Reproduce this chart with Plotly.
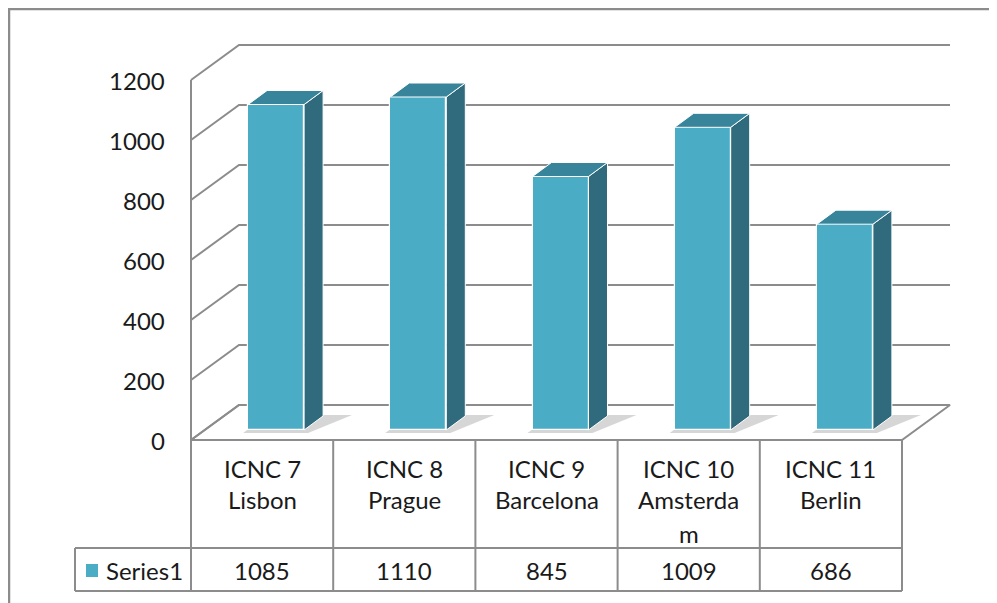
import plotly.graph_objects as go

# ---------------- data ----------------
categories = ["ICNC 7\nLisbon", "ICNC 8\nPrague", "ICNC 9\nBarcelona",
              "ICNC 10\nAmsterda\nm", "ICNC 11\nBerlin"]
values = [1085, 1110, 845, 1009, 686]
series_name = "Series1"
y_ticks = [0, 200, 400, 600, 800, 1000, 1200]

# ---------------- geometry (screen pixels) ----------------
W, H = 997, 603
OFF = 8.0                        # page body margin: figure starts 8px in
FX0, FX1 = 191.0, 902.0          # front plane left/right (category -0.5 .. n-0.5)
Y0 = 440.0                       # screen row of value 0 on the front plane
PPV = 0.30                       # pixels per value unit
n = len(values)
PPC = (FX1 - FX0) / n            # pixels per category

DX0, DX1 = 140.0, 990.0
DY_T, DY_B = 20.0, 446.0


def pxp(p):  # screen pixel -> paper x
    return (p - OFF) / W


def pyp(p):  # screen pixel -> paper y
    return 1 - (p - OFF) / H


def xp(p):   # screen pixel -> x data
    return -0.5 + (p - FX0) / PPC


def yp(p):   # screen pixel -> y data
    return (Y0 - p) / PPV


def dxp(d):
    return d / PPC


def dyp(d):
    return d / PPV


WALL_DX, WALL_DY = dxp(48), dyp(35)
F_DX, F_DY = dxp(14), dyp(10)
B_DX, B_DY = dxp(33), dyp(24)
BW = dxp(56)

GRID = "#8C8C8C"
FRONT = "#4BACC6"
SIDE = "#2F6B7C"
TOP = "#38849A"
TXT = "#1A1A1A"
FONT = "Lato"
FS = 24

fig = go.Figure()
x_left, x_right = -0.5, n - 0.5

# ---- bottom layer (x/y): floor, gridlines, shadows ----
fig.add_trace(go.Scatter(
    x=[x_left, x_right, x_right + WALL_DX, x_left + WALL_DX, x_left],
    y=[0, 0, WALL_DY, WALL_DY, 0],
    mode="lines", fill="toself", fillcolor="white",
    line=dict(color=GRID, width=2), hoverinfo="skip", showlegend=False))

gx, gy = [], []
for v in y_ticks:
    gx += [x_left, x_left + WALL_DX, x_right + WALL_DX, None]
    gy += [v, v + WALL_DY, v + WALL_DY, None]
gx += [x_left, x_left]
gy += [0, y_ticks[-1]]
fig.add_trace(go.Scatter(x=gx, y=gy, mode="lines",
                         line=dict(color=GRID, width=2),
                         hoverinfo="skip", showlegend=False))

for i, v in enumerate(values):
    xl = i - BW / 2 + F_DX
    xr = i + BW / 2 + F_DX
    fig.add_trace(go.Scatter(
        x=[xl - dxp(5), xr + dxp(4), xr + dxp(48), xl + dxp(19), xl - dxp(5)],
        y=[F_DY - dyp(3), F_DY - dyp(3), F_DY + dyp(15), F_DY + dyp(15), F_DY - dyp(3)],
        mode="lines", fill="toself", fillcolor="rgba(0,0,0,0.16)",
        line=dict(width=0), hoverinfo="skip", showlegend=False))

# ---- top layer (x2/y2): bars ----
fig.add_trace(go.Bar(
    x=[i + F_DX for i in range(n)], y=values, base=F_DY, width=BW,
    marker=dict(color=FRONT, line=dict(color="white", width=1.2)),
    xaxis="x2", yaxis="y2", hoverinfo="skip", showlegend=False))

for i, v in enumerate(values):
    xl = i - BW / 2
    xr = i + BW / 2
    fig.add_trace(go.Scatter(
        x=[xr + F_DX, xr + B_DX, xr + B_DX, xr + F_DX, xr + F_DX],
        y=[F_DY, B_DY, v + B_DY, v + F_DY, F_DY],
        mode="lines", fill="toself", fillcolor=SIDE,
        line=dict(color="white", width=1), xaxis="x2", yaxis="y2",
        hoverinfo="skip", showlegend=False))
    fig.add_trace(go.Scatter(
        x=[xl + F_DX, xr + F_DX, xr + B_DX, xl + B_DX, xl + F_DX],
        y=[v + F_DY, v + F_DY, v + B_DY, v + B_DY, v + F_DY],
        mode="lines", fill="toself", fillcolor=TOP,
        line=dict(color="white", width=1), xaxis="x2", yaxis="y2",
        hoverinfo="skip", showlegend=False))

shapes = []
annotations = []

# chart border (top and left visible)
shapes.append(dict(type="rect", xref="paper", yref="paper",
                   x0=pxp(9), x1=pxp(1015), y0=pyp(620), y1=pyp(9),
                   line=dict(color=GRID, width=2.5)))

# y tick labels
for v in y_ticks:
    annotations.append(dict(x=x_left, y=v, xref="x", yref="y", text=str(v),
                            showarrow=False, xanchor="right", yanchor="middle",
                            xshift=-24, font=dict(family=FONT, size=FS, color=TXT)))

# data table
T_TOP, T_MID, T_BOT = 440.0, 548.0, 591.0
T_LEFT = 75.0
tl = dict(color=GRID, width=2)
shapes.append(dict(type="line", xref="x", yref="paper", x0=x_left, x1=x_right,
                   y0=pyp(T_TOP), y1=pyp(T_TOP), line=tl))
for yy in (T_MID, T_BOT):
    shapes.append(dict(type="line", xref="paper", yref="paper", x0=pxp(T_LEFT), x1=pxp(FX1),
                       y0=pyp(yy), y1=pyp(yy), line=tl))
shapes.append(dict(type="line", xref="paper", yref="paper", x0=pxp(T_LEFT), x1=pxp(T_LEFT),
                   y0=pyp(T_MID), y1=pyp(T_BOT), line=tl))
for k in range(n + 1):
    shapes.append(dict(type="line", xref="x", yref="paper", x0=k - 0.5, x1=k - 0.5,
                       y0=pyp(T_TOP), y1=pyp(T_BOT), line=tl))

line_y = [468, 500, 533]
for i, cat in enumerate(categories):
    for j, part in enumerate(cat.split("\n")):
        annotations.append(dict(x=i, y=pyp(line_y[j]), xref="x", yref="paper",
                                text=part, showarrow=False, xanchor="center",
                                yanchor="middle",
                                font=dict(family=FONT, size=FS, color=TXT)))
    annotations.append(dict(x=i, y=pyp(570), xref="x", yref="paper",
                            text=str(values[i]), showarrow=False, xanchor="center",
                            yanchor="middle", font=dict(family=FONT, size=FS, color=TXT)))

shapes.append(dict(type="rect", xref="paper", yref="paper",
                   x0=pxp(86), x1=pxp(98), y0=pyp(577), y1=pyp(564),
                   fillcolor=FRONT, line=dict(width=0)))
annotations.append(dict(x=pxp(104), y=pyp(570), xref="paper", yref="paper",
                        text=series_name, showarrow=False, xanchor="left",
                        yanchor="middle", font=dict(family=FONT, size=FS, color=TXT)))

axx = dict(domain=[pxp(DX0), pxp(DX1)], range=[xp(DX0), xp(DX1)],
           visible=False, fixedrange=True)
axy = dict(domain=[pyp(DY_B), pyp(DY_T)], range=[yp(DY_B), yp(DY_T)],
           visible=False, fixedrange=True)

fig.update_layout(
    width=W, height=H,
    margin=dict(l=0, r=0, t=0, b=0),
    paper_bgcolor="white", plot_bgcolor="rgba(0,0,0,0)",
    showlegend=False,
    xaxis=axx, yaxis=axy,
    xaxis2=dict(axx, overlaying="x", anchor="y2"),
    yaxis2=dict(axy, overlaying="y", anchor="x2"),
    shapes=shapes, annotations=annotations,
    bargap=0,
)

fig.write_html("out.html")
